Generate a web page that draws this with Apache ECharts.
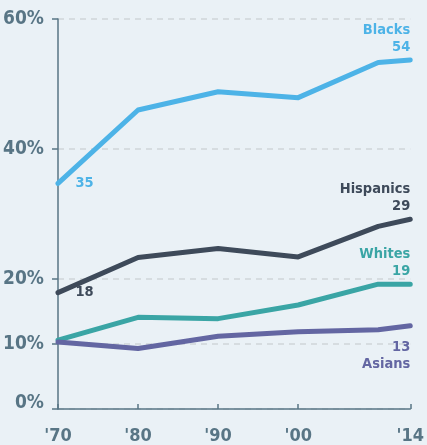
<!DOCTYPE html>
<html>
<head>
<meta charset="utf-8">
<script src="https://cdn.jsdelivr.net/npm/echarts@6/dist/echarts.min.js"></script>
<style>
html,body{margin:0;padding:0;background:#eaf1f6;}
#c{width:427px;height:445px;}
</style>
</head>
<body>
<div id="c"></div>
<script>
const years = [1970, 1980, 1990, 2000, 2010, 2014];
const blacks = [34.7, 46.0, 48.8, 47.9, 53.3, 53.7];
const hispanics = [17.9, 23.3, 24.7, 23.4, 28.1, 29.2];
const whites = [10.6, 14.1, 13.9, 16.0, 19.2, 19.2];
const asians = [10.3, 9.3, 11.2, 11.9, 12.2, 12.8];
const yTicks = [0, 10, 20, 40, 60];
const xTicks = [1970, 1980, 1990, 2000, 2014];
const xTickLabels = ["'70", "'80", "'90", "'00", "'14"];
const seriesNames = ['Blacks', 'Hispanics', 'Whites', 'Asians'];
const startLabels = ['35', '18', null, null];
const endLabels = ['54', '29', '19', '13'];
const colors = ['#4db3e7', '#3e4a5a', '#3aa5a5', '#6366a2'];
const allValues = [blacks, hispanics, whites, asians];

const FONT = "'Liberation Sans Narrow', 'DejaVu Sans Condensed', 'Liberation Sans', sans-serif";
const AXIS = '#587585';

const series = seriesNames.map((name, si) => {
  const vals = allValues[si];
  const data = years.map((y, i) => {
    const item = { value: [y, vals[i]] };
    if (i === 0 && startLabels[si]) {
      item.label = {
        show: true, position: 'right', distance: 17,
        offset: [0, si === 0 ? 2 : 4],
        formatter: startLabels[si], color: colors[si],
        fontFamily: FONT, fontWeight: 'bold', fontSize: 14.5
      };
    }
    if (i === years.length - 1) {
      const below = name === 'Asians';
      item.label = {
        show: true, position: below ? 'bottom' : 'top', align: 'right',
        distance: below ? 12 : 4,
        formatter: below ? endLabels[si] + '\n' + name : name + '\n' + endLabels[si],
        color: colors[si], fontFamily: FONT, fontWeight: 'bold',
        fontSize: 14.5, lineHeight: 17
      };
    }
    return item;
  });
  return {
    name, type: 'line', data, symbol: 'circle', symbolSize: 1, showSymbol: true, showAllSymbol: true,
    lineStyle: { color: colors[si], width: 5, cap: 'round', join: 'round' },
    itemStyle: { color: colors[si] },
    label: { show: false },
    labelLayout: { hideOverlap: false },
    emphasis: { disabled: true },
    z: 3 + si
  };
});

const chart = echarts.init(document.getElementById('c'), null, { renderer: 'canvas' });
chart.setOption({
  animation: false,
  backgroundColor: '#eaf1f6',
  grid: { left: 58, right: 13, top: 19, bottom: 32, containLabel: false },
  xAxis: {
    type: 'value', min: 1970, max: 2014,
    axisLine: { show: true, lineStyle: { color: AXIS, width: 1.5 } },
    axisTick: { show: true, inside: true, length: 5, customValues: xTicks, lineStyle: { color: AXIS, width: 1.5 } },
    axisLabel: {
      customValues: xTicks, margin: 18,
      formatter: v => xTickLabels[xTicks.indexOf(v)],
      color: AXIS, fontFamily: FONT, fontWeight: 'bold', fontSize: 18
    },
    splitLine: { show: false }
  },
  yAxis: {
    type: 'value', min: 0, max: 60,
    axisLine: { show: true, lineStyle: { color: AXIS, width: 1.5 } },
    axisTick: { show: true, length: 6, customValues: yTicks, lineStyle: { color: AXIS, width: 1.5 } },
    axisLabel: {
      customValues: yTicks, margin: 14,
      formatter: v => v === 0 ? '{z|0%}' : v + '%',
      rich: { z: { color: AXIS, fontFamily: FONT, fontWeight: 'bold', fontSize: 19, padding: [0, 0, 12, 0] } },
      color: AXIS, fontFamily: FONT, fontWeight: 'bold', fontSize: 19
    },
    splitLine: { show: true, lineStyle: { color: '#cfd5d9', type: [6, 5], width: 1.5 } }
  },
  series
});
</script>
</body>
</html>
